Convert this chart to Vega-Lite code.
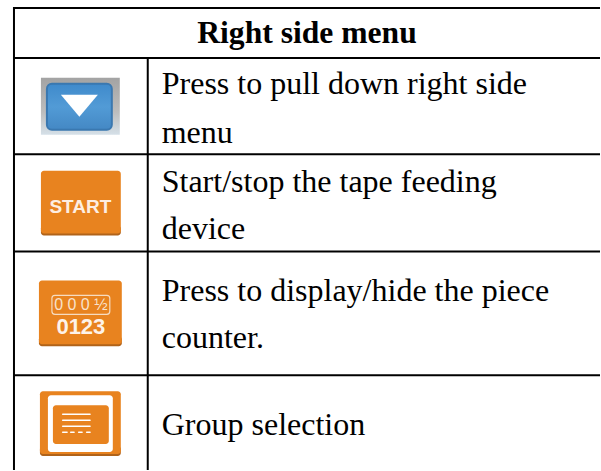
{
"$schema":"https://vega.github.io/schema/vega-lite/v6.json",
"width":601,"height":471,"padding":0,"autosize":{"type":"fit","contains":"padding"},
"background":"white",
"config":{"view":{"stroke":null}},
"datasets":{
"grid":[
{"x":14,"x2":601,"y":8,"y2":8},{"x":14,"x2":601,"y":58,"y2":58},{"x":14,"x2":601,"y":154.5,"y2":154.5},{"x":14,"x2":601,"y":252,"y2":252},{"x":14,"x2":601,"y":376,"y2":376},
{"x":14,"x2":14,"y":7,"y2":471},{"x":148,"x2":148,"y":58,"y2":471}],
"frame":[{"x":41,"x2":120,"y":78,"y2":135}],
"blue":[{"x":47,"x2":112,"y":84,"y2":130}],
"blocks":[
{"part":"shade","x":41,"x2":121,"y":226,"y2":236},
{"part":"orange","x":41,"x2":121,"y":171,"y2":234},
{"part":"shade","x":39,"x2":122,"y":337,"y2":347},
{"part":"orange","x":39,"x2":122,"y":281,"y2":345},
{"part":"shade","x":40,"x2":121,"y":447,"y2":457},
{"part":"orange","x":40,"x2":121,"y":392,"y2":455},
{"part":"white","x":48,"x2":113,"y":396,"y2":453},
{"part":"orange","x":53,"x2":109,"y":406,"y2":445},
{"part":"white","x":62,"x2":91,"y":414.3,"y2":416},
{"part":"white","x":62,"x2":91,"y":420.3,"y2":422},
{"part":"white","x":62,"x2":91,"y":426.3,"y2":428},
{"part":"white","x":62,"x2":68,"y":432.3,"y2":434},
{"part":"white","x":70,"x2":75,"y":432.3,"y2":434},
{"part":"white","x":78,"x2":83,"y":432.3,"y2":434},
{"part":"white","x":86,"x2":91,"y":432.3,"y2":434}],
"counter":[{"x":52,"x2":110,"y":296,"y2":315}],
"arrow":[{"x":79.5,"y":106}],
"start":[{"t":"START","x":80.5,"y":213}],
"digits":[{"t":"0123","x":81,"y":335}],
"dial":[{"t":"0 0 0 ½","x":81,"y":311}],
"copy":[
{"t":"Press to pull down right side","x":162,"y":94},
{"t":"menu","x":162,"y":143},
{"t":"Start/stop the tape feeding","x":162,"y":192},
{"t":"device","x":162,"y":240},
{"t":"Press to display/hide the piece","x":162,"y":302},
{"t":"counter.","x":162,"y":349},
{"t":"Group selection","x":162,"y":436}],
"head":[{"t":"Right side menu","x":307.5,"y":43}]
},
"data":{"name":"copy"},
"layer":[
{"data":{"name":"frame"},"mark":{"type":"rect","color":{"gradient":"linear","x1":0,"y1":0,"x2":0,"y2":1,"stops":[{"offset":0,"color":"#a3a3a3"},{"offset":0.6,"color":"#bdbdbd"},{"offset":1,"color":"#d5e0e8"}]}},
"encoding":{"x":{"field":"x","type":"quantitative","scale":{"domain":[0,601],"nice":false,"zero":false},"axis":null},"x2":{"field":"x2"},
"y":{"field":"y","type":"quantitative","scale":{"domain":[471,0],"nice":false,"zero":false},"axis":null},"y2":{"field":"y2"}}},
{"data":{"name":"blue"},"mark":{"type":"rect","cornerRadius":5,"stroke":"#3a78b0","strokeWidth":2,"color":{"gradient":"linear","x1":0,"y1":0,"x2":0,"y2":1,"stops":[{"offset":0,"color":"#3f8acb"},{"offset":0.5,"color":"#529bd6"},{"offset":1,"color":"#4488c4"}]}},
"encoding":{"x":{"field":"x","type":"quantitative","axis":null},"x2":{"field":"x2"},"y":{"field":"y","type":"quantitative","axis":null},"y2":{"field":"y2"}}},
{"data":{"name":"blocks"},"mark":{"type":"rect","cornerRadius":3},
"encoding":{"x":{"field":"x","type":"quantitative","axis":null},"x2":{"field":"x2"},
"y":{"field":"y","type":"quantitative","axis":null},"y2":{"field":"y2"},
"color":{"field":"part","type":"nominal","legend":null,"scale":{"domain":["orange","shade","white"],"range":["#e8831f","#b0631a","#ffffff"]}}}},
{"data":{"name":"counter"},"mark":{"type":"rect","cornerRadius":3,"fillOpacity":0,"stroke":"#f6dcc0","strokeWidth":1.2},
"encoding":{"x":{"field":"x","type":"quantitative","axis":null},"x2":{"field":"x2"},"y":{"field":"y","type":"quantitative","axis":null},"y2":{"field":"y2"}}},
{"data":{"name":"arrow"},"mark":{"type":"point","shape":"M-1,-0.6L1,-0.6L0,0.6Z","filled":true,"color":"#ffffff","opacity":1,"size":1369},
"encoding":{"x":{"field":"x","type":"quantitative","axis":null},"y":{"field":"y","type":"quantitative","axis":null}}},
{"data":{"name":"start"},"mark":{"type":"text","font":"Liberation Sans","fontWeight":"bold","fontSize":19,"color":"#fdeee2","align":"center","baseline":"alphabetic"},
"encoding":{"x":{"field":"x","type":"quantitative","axis":null},"y":{"field":"y","type":"quantitative","axis":null},"text":{"field":"t"}}},
{"data":{"name":"digits"},"mark":{"type":"text","font":"Liberation Sans","fontWeight":"bold","fontSize":22,"color":"#fdf3ea","align":"center","baseline":"alphabetic"},
"encoding":{"x":{"field":"x","type":"quantitative","axis":null},"y":{"field":"y","type":"quantitative","axis":null},"text":{"field":"t"}}},
{"data":{"name":"dial"},"mark":{"type":"text","font":"Liberation Sans","fontSize":16,"color":"#f8e2cb","align":"center","baseline":"alphabetic"},
"encoding":{"x":{"field":"x","type":"quantitative","axis":null},"y":{"field":"y","type":"quantitative","axis":null},"text":{"field":"t"}}},
{"data":{"name":"grid"},"mark":{"type":"rule","color":"#000000","strokeWidth":2},
"encoding":{"x":{"field":"x","type":"quantitative","axis":null},"x2":{"field":"x2"},"y":{"field":"y","type":"quantitative","axis":null},"y2":{"field":"y2"}}},
{"mark":{"type":"text","font":"Liberation Serif","fontSize":32,"color":"#000000","align":"left","baseline":"alphabetic"},
"encoding":{"x":{"field":"x","type":"quantitative","axis":null},"y":{"field":"y","type":"quantitative","axis":null},"text":{"field":"t"}}},
{"data":{"name":"head"},"mark":{"type":"text","font":"Liberation Serif","fontWeight":"bold","fontSize":31.6,"color":"#000000","align":"center","baseline":"alphabetic"},
"encoding":{"x":{"field":"x","type":"quantitative","axis":null},"y":{"field":"y","type":"quantitative","axis":null},"text":{"field":"t"}}}
]
}
